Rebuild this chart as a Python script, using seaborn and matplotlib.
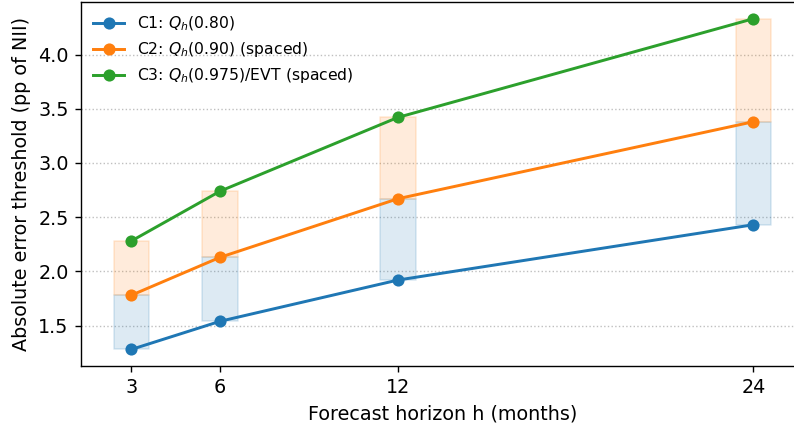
import matplotlib
matplotlib.use("Agg")
import matplotlib.pyplot as plt
import seaborn as sns
import pandas as pd

horizons = [3, 6, 12, 24]
c1 = [1.28, 1.54, 1.92, 2.43]
c2 = [1.78, 2.13, 2.67, 3.38]
c3 = [2.28, 2.74, 3.42, 4.33]
labels = ["C1: $Q_h$(0.80)", "C2: $Q_h$(0.90) (spaced)", "C3: $Q_h$(0.975)/EVT (spaced)"]
colors = ["#1f77b4", "#ff7f0e", "#2ca02c"]

rows = []
for lab, vals in zip(labels, [c1, c2, c3]):
    for h, v in zip(horizons, vals):
        rows.append({"h": h, "val": v, "series": lab})
df = pd.DataFrame(rows)

plt.rcParams["font.size"] = 11
fig = plt.figure(figsize=(6.352, 3.432), dpi=125)
ax = fig.add_axes([0.1016, 0.1469, 0.911, 0.848])

band_w = 0.6
for h, a, b, c in zip(horizons, c1, c2, c3):
    ax.fill_between([h - band_w, h + band_w], a, b, color=colors[0], alpha=0.15)
    ax.fill_between([h - band_w, h + band_w], b, c, color=colors[1], alpha=0.15)

sns.lineplot(data=df, x="h", y="val", hue="series", palette=colors,
             marker="o", markersize=7, markeredgewidth=0, linewidth=1.7, ax=ax)

ax.set_xticks(horizons)
ax.set_xlabel("Forecast horizon h (months)")
ax.set_ylabel("Absolute error threshold (pp of NII)")
ax.grid(axis="y", linestyle=":", color="#b0b0b0", alpha=0.8)
ax.set_axisbelow(True)
ax.spines["right"].set_visible(False)
leg = ax.legend(loc="upper left", frameon=False, fontsize=9, borderaxespad=0.4,
                labelspacing=0.45, handlelength=2.0)
fig.savefig("out.png", dpi=125)
